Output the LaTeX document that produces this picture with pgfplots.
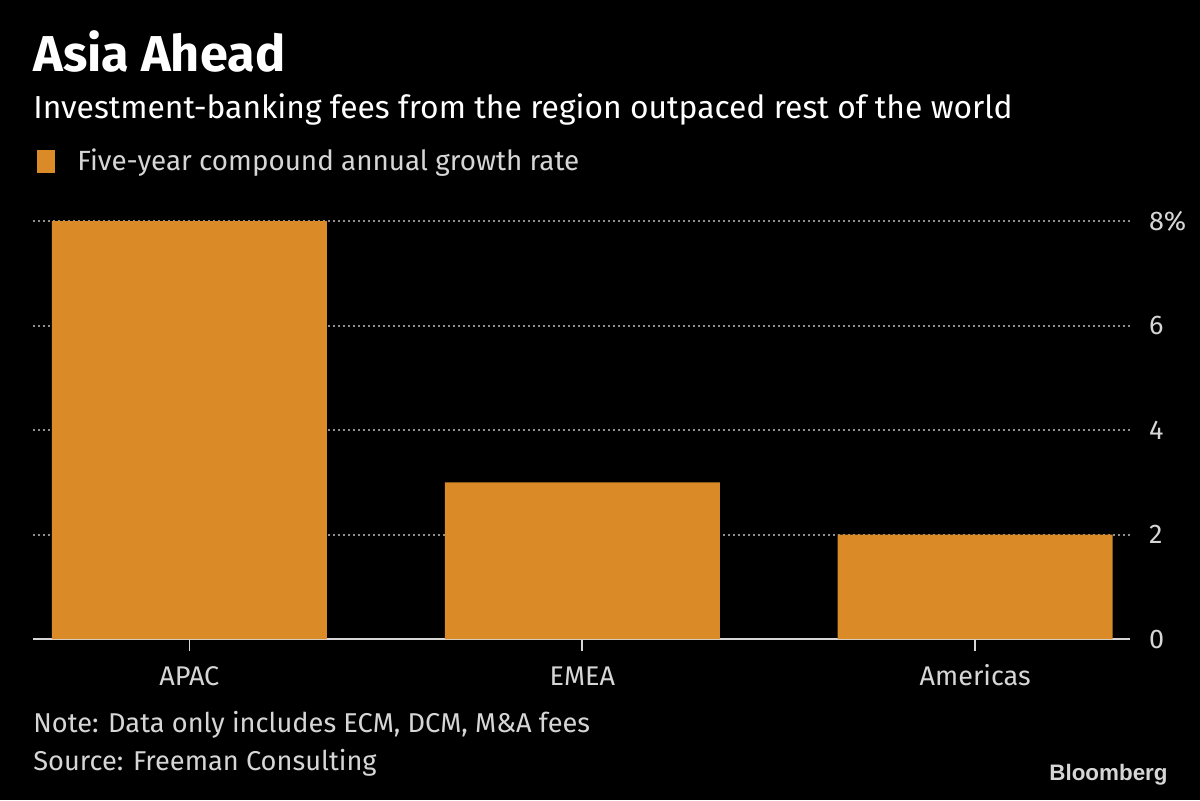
\documentclass[border=0pt]{standalone}
\usepackage{pgfplots}
\pgfplotsset{compat=1.18}
\usepackage{fontspec}
\setmainfont{Fira Sans}
\newfontfamily\logofont{Liberation Sans}
\definecolor{bar}{HTML}{DA8A27}
\definecolor{lt}{HTML}{D6D6D6}
\definecolor{gridc}{HTML}{8E8E8E}
\begin{document}
\begin{tikzpicture}
\useasboundingbox (0pt,0pt) rectangle (600pt,400pt);
\fill[black] (0pt,0pt) rectangle (600pt,400pt);
\node[anchor=base west, inner sep=0, text=white, font=\fontsize{25.2}{29}\selectfont\bfseries] at (16.5pt,364pt) {Asia Ahead};
\node[anchor=base west, inner sep=0, text=white, font=\fontsize{15.9}{18}\selectfont] at (16.5pt,341pt) {Investment-banking fees from the region outpaced rest of the world};
\fill[bar] (18.5pt,313.5pt) rectangle (27.5pt,325pt);
\node[anchor=base west, inner sep=0, text=lt, font=\fontsize{13.9}{16}\selectfont] at (38.5pt,315pt) {Five-year compound annual growth rate};
\node[anchor=base west, inner sep=0, text=lt, font=\fontsize{13.6}{16}\selectfont] at (16.5pt,34pt) {Note: Data only includes ECM, DCM, M\&A fees};
\node[anchor=base west, inner sep=0, text=lt, font=\fontsize{13.6}{16}\selectfont] at (16.5pt,15pt) {Source: Freeman Consulting};
\node[anchor=base east, inner sep=0, text=lt, font=\logofont\fontsize{11.2}{13}\selectfont\bfseries] at (584pt,10pt) {Bloomberg};
\begin{axis}[
  name=ax,
  at={(16.5pt,80.5pt)}, anchor=south west,
  scale only axis, width=548.5pt, height=209pt,
  xmin=-0.398, xmax=2.394, ymin=0, ymax=8,
  axis x line*=bottom, axis y line*=right,
  y axis line style={draw=none},
  x axis line style={draw=lt, line width=0.8pt},
  xtick={0,1,2}, xticklabels={APAC,EMEA,Americas},
  ytick={0,2,4,6,8}, yticklabels={0,2,4,6,8\%},
  tick align=outside, major tick length=6pt,
  xtick style={draw=lt, line width=0.8pt},
  ytick style={draw=none},
  ymajorgrids, grid style={draw=gridc, line width=1pt, dash pattern=on 1pt off 1.5pt},
  tick label style={text=lt, font=\fontsize{13.5}{16}\selectfont},
  /pgf/number format/assume math mode=true,
  xticklabel style={anchor=base, yshift=-17pt},
  yticklabel style={anchor=west, xshift=0pt},
  clip=false,
]
\addplot[ybar, bar width=137.5pt, fill=bar, draw=none] coordinates {(0,8) (1,3) (2,2)};
\end{axis}
\end{tikzpicture}
\end{document}
